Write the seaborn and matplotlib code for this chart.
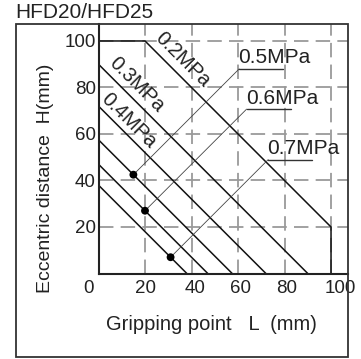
import numpy as np
import pandas as pd
import matplotlib
matplotlib.use("Agg")
import matplotlib.pyplot as plt
import matplotlib.transforms as mtransforms
from matplotlib.patches import Rectangle
import seaborn as sns

# pressure limit lines: L + H = limit_sum, clipped to the 100 x 100 working range
pressures = ["0.2MPa", "0.3MPa", "0.4MPa", "0.5MPa", "0.6MPa", "0.7MPa"]
limit_sum = [120, 90, 72, 57.5, 47, 38]
max_L = 100
max_H = 100

# worked examples (dot on a line, leader to a label)
example_pressure = ["0.5MPa", "0.6MPa", "0.7MPa"]
example_L = [15, 20, 31]
callout_L = [60.5, 63.7, 73]

# rotated tags for the upper three lines
tag_pressure = ["0.2MPa", "0.3MPa", "0.4MPa"]
tag_L = [36, 16.5, 13]

x_ticks = [0, 20, 40, 60, 80, 100]
y_ticks = [20, 40, 60, 80, 100]

sns.set_style("white")
plt.rcParams['font.family'] = ['Liberation Sans', 'DejaVu Sans']

rows = []
for p, s in zip(pressures, limit_sum):
    L = np.array([0, max(0, s - max_H), min(s, max_L), s], dtype=float)
    H = np.clip(s - L, 0, max_H)
    L = np.clip(L, 0, max_L)
    for l, h in zip(L, H):
        rows.append({'pressure': p, 'L': l, 'H': h})
lines_df = pd.DataFrame(rows)

sums = dict(zip(pressures, limit_sum))
ex_df = pd.DataFrame({'pressure': example_pressure, 'L': example_L})
ex_df['H'] = [sums[p] - l for p, l in zip(example_pressure, example_L)]

fig = plt.figure(figsize=(3.61, 3.59), dpi=100)
ax = fig.add_axes([98.5 / 361, 1 - 273.5 / 359, 249.5 / 361, 249.5 / 359])

ax.set_xlim(0, 107.3)
ax.set_ylim(0, 107.3)
ax.set_xticks(x_ticks)
ax.set_yticks(y_ticks)
ax.grid(True, color='#9a9a9a', lw=1.3, linestyle=(0, (8, 4)))
ax.set_axisbelow(True)

sns.lineplot(data=lines_df, x='L', y='H', units='pressure', estimator=None,
             sort=False, color='#111111', lw=1.1, ax=ax, legend=False)

# leaders and callout labels
for _, r in ex_df.iterrows():
    cl = callout_L[example_pressure.index(r['pressure'])]
    ch = r['H'] + (cl - r['L'])
    ax.plot([r['L'], cl], [r['H'], ch], color='#444444', lw=0.6)
    ax.plot([cl, cl + 19], [ch, ch], color='#333333', lw=1.0)
    ax.text(cl - 0.3, ch + 0.6, r['pressure'], fontsize=15, color='#222222',
            ha='left', va='bottom')

sns.scatterplot(data=ex_df, x='L', y='H', color='black', s=32, edgecolor='none',
                ax=ax, zorder=5, legend=False)

offsets = {"0.2MPa": 8.0, "0.3MPa": 7.6, "0.4MPa": 6.6}
for p, l in zip(tag_pressure, tag_L):
    h = sums[p] - l + offsets[p]
    ax.text(l, h, p, fontsize=14.5, color='#222222', rotation=-45,
            rotation_mode='anchor', ha='center', va='center')

for side in ['top', 'right']:
    ax.spines[side].set_visible(False)
for side in ['left', 'bottom']:
    ax.spines[side].set_color('#222222')
    ax.spines[side].set_linewidth(1.5)

ax.tick_params(axis='both', length=0, labelsize=13.5, labelcolor='#222222')
ax.tick_params(axis='x', pad=5)
ax.tick_params(axis='y', pad=2)
label_shift = [-9.5, 0.5, 4, 2, 2, 9]
for lab, dx in zip(ax.get_xticklabels(), label_shift):
    lab.set_transform(lab.get_transform() +
                      mtransforms.ScaledTranslation(dx / 100, 0, fig.dpi_scale_trans))

ax.set_xlabel('Gripping point   L  (mm)', fontsize=14.5, color='#222222', va='center')
ax.xaxis.set_label_coords((211.7 - 98.5) / 249.5, (273.5 - 325) / 249.5)
ax.set_ylabel('Eccentric distance  H(mm)', fontsize=14, color='#222222', va='center')
ax.yaxis.set_label_coords((45 - 98.5) / 249.5, (273.5 - 178) / 249.5)

fig.text(15 / 361, 1 - 12.5 / 359, 'HFD20/HFD25', fontsize=15, color='#222222',
         ha='left', va='center')
fig.add_artist(Rectangle((15.7 / 361, 1 - 356.7 / 359), (348 - 15.7) / 361,
                         (356.7 - 24) / 359, transform=fig.transFigure,
                         fill=False, lw=1.3, edgecolor='#333333'))

fig.savefig('out.png', dpi=100)
